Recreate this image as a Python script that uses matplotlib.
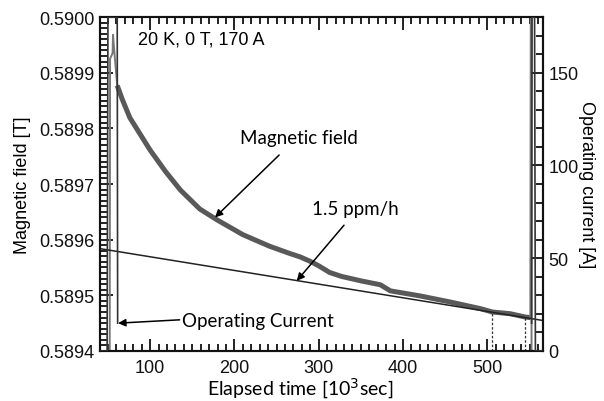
import matplotlib
matplotlib.use("Agg")
import matplotlib.pyplot as plt
from matplotlib.ticker import MultipleLocator, FormatStrFormatter

plt.rcParams["font.family"] = ["Liberation Sans", "DejaVu Sans"]

# --- data -------------------------------------------------------------
# field trace during ramp-up (10^3 s, T)
ramp_up_t = [52.0, 52.5, 55.5, 56.0, 58.0, 61.0]
ramp_up_B = [0.58930, 0.589925, 0.589935, 0.589968, 0.589930, 0.589877]

# field decay while holding 170 A
decay_t = [61, 67, 76, 88, 100, 118, 136, 159, 180, 210, 242, 266, 278,
           290, 300, 313, 327, 350, 373, 385, 420, 456, 492, 506, 527, 545, 551]
decay_B = [0.589877, 0.589852, 0.589819, 0.589790, 0.589761, 0.589723,
           0.589689, 0.589655, 0.589635, 0.589609, 0.589588, 0.589575,
           0.589569, 0.589561, 0.589553, 0.589541, 0.589534, 0.589526,
           0.589519, 0.589508, 0.589499, 0.589488, 0.589476, 0.589470,
           0.589467, 0.589461, 0.589460]

# field trace during ramp-down
ramp_down_t = [551.0, 551.5, 552.0, 552.5]
ramp_down_B = [0.589460, 0.59002, 0.59002, 0.58930]

# operating current (10^3 s, A)
cur_up_t = [40.0, 49.0, 50.0, 61.0, 61.5]
cur_up_I = [0.0, 0.0, 180.0, 180.0, 15.0]
cur_down_t = [552.5, 553.0, 556.0, 557.0, 566.0]
cur_down_I = [15.0, 180.0, 180.0, 0.0, 0.0]

# drift reference line: 1.5 ppm/h
drift_ppm_per_h = 1.5
drift_t = [40.0, 566.0]
drift_B0 = 0.589584

# reading positions marked by dotted lines
mark_t = [506, 545]
mark_B = [0.589470, 0.589461]

# ----------------------------------------------------------------------
note_font = "Lato"

fig = plt.figure(figsize=(6.04, 4.02), dpi=100)
ax = fig.add_axes([0.1656, 0.1244, 0.7334, 0.8308])
ax2 = ax.twinx()

ax.set_xlim(40.6, 566)
ax.set_ylim(0.5894, 0.5900)
ax2.set_ylim(0, 180)

# drift line computed from the stated rate
drift_B = [drift_B0 * (1 - drift_ppm_per_h * 1e-6 * (t - drift_t[0]) * 1000 / 3600)
           for t in drift_t]
ax.plot(drift_t, drift_B, color="#222222", lw=1.1, zorder=3)

ax.plot(ramp_up_t, ramp_up_B, color="#777777", lw=1.4, zorder=2)
ax.plot(decay_t, decay_B, color="#595959", lw=3.6, solid_capstyle="butt", zorder=2)
ax.plot(ramp_down_t, ramp_down_B, color="#777777", lw=1.4, zorder=2)

for t, b in zip(mark_t, mark_B):
    ax.plot([t, t], [0.5894, b], color="#333333", lw=0.9, ls=(0, (2, 1.5)), zorder=2)

ax2.plot(cur_up_t, cur_up_I, color="#333333", lw=1.2, zorder=4)
ax2.plot(cur_down_t, cur_down_I, color="#333333", lw=1.2, zorder=4)

# axes styling
ax.xaxis.set_major_locator(MultipleLocator(100))
ax.xaxis.set_minor_locator(MultipleLocator(10))
ax.yaxis.set_major_locator(MultipleLocator(0.0001))
ax.yaxis.set_minor_locator(MultipleLocator(0.00001))
ax.yaxis.set_major_formatter(FormatStrFormatter("%.4f"))
ax2.yaxis.set_major_locator(MultipleLocator(50))
ax2.yaxis.set_minor_locator(MultipleLocator(10))

ax.tick_params(axis="both", which="both", direction="in", width=1.3, colors="#111111",
               labelsize=13)
ax.tick_params(axis="x", which="both", top=True)
ax.tick_params(which="major", length=9)
ax.tick_params(which="minor", length=5)
ax.tick_params(axis="y", which="both", right=False)
ax2.tick_params(axis="y", which="both", direction="in", width=1.3, colors="#111111",
                labelsize=13)
ax2.tick_params(which="major", length=9)
ax2.tick_params(which="minor", length=5)

for a in (ax, ax2):
    for s in a.spines.values():
        s.set_linewidth(1.5)
        s.set_color("#111111")
ax.tick_params(axis="x", pad=6)
ax.tick_params(axis="y", pad=4)
ax2.tick_params(axis="y", pad=4)

ax.set_xlabel("Elapsed time [10$^{3}$sec]", fontfamily=note_font, fontsize=14)
ax.xaxis.set_label_coords(0.451, -0.075)
ax.set_ylabel("Magnetic field [T]", fontsize=13, labelpad=6)
ax2.set_ylabel("Operating current [A]", fontsize=13, rotation=270, va="center", ha="center")
ax2.yaxis.set_label_coords(1.099, 0.5)

ax.text(0.086, 0.934, "20 K, 0 T, 170 A", transform=ax.transAxes, ha="left", va="center",
        fontsize=13)

arrow = dict(arrowstyle="-|>", color="black", lw=1.1, mutation_scale=11, shrinkA=0, shrinkB=0)
ax.annotate("", xy=(177, 0.589640), xytext=(253, 0.589752), arrowprops=arrow)
ax.text(277, 0.589783, "Magnetic field", ha="center", va="center",
        fontfamily=note_font, fontsize=13.5)
ax.annotate("", xy=(274, 0.589526), xytext=(330, 0.589626), arrowprops=arrow)
ax.text(344, 0.589656, "1.5 ppm/h", ha="center", va="center",
        fontfamily=note_font, fontsize=13.5)
ax.annotate("", xy=(62, 0.589450), xytext=(135, 0.589456), arrowprops=arrow)
ax.text(138, 0.589455, "Operating Current", ha="left", va="center",
        fontfamily=note_font, fontsize=13.5)

fig.savefig("out.png", dpi=100)
